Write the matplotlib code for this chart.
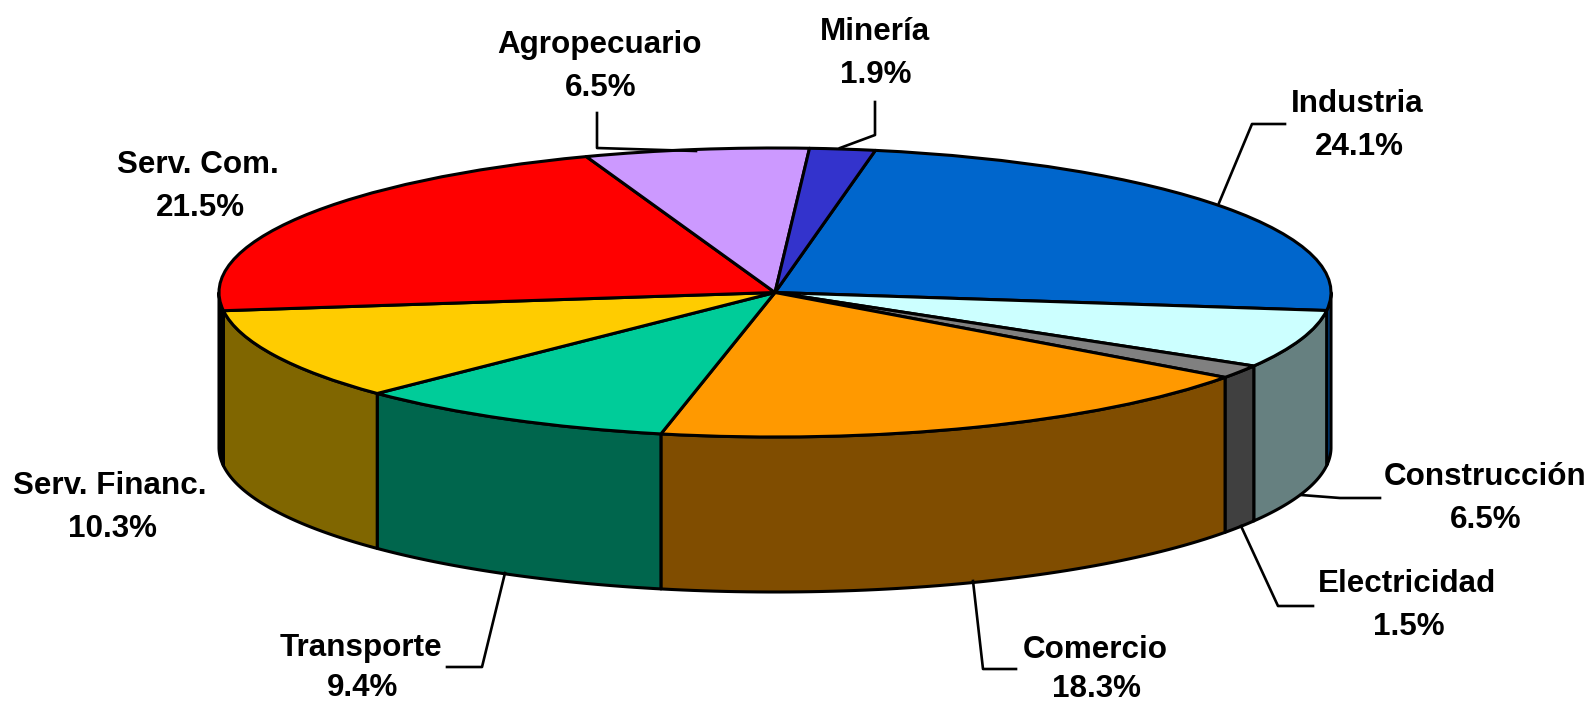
import numpy as np
import matplotlib
matplotlib.use("Agg")
import matplotlib.pyplot as plt

labels = ["Industria", "Construcción", "Electricidad", "Comercio", "Transporte",
          "Serv. Financ.", "Serv. Com.", "Agropecuario", "Minería"]
values = [24.1, 6.5, 1.5, 18.3, 9.4, 10.3, 21.5, 6.5, 1.9]
top_colors = ["#0066CC", "#CCFFFF", "#808080", "#FF9900", "#00CC99",
              "#FFCC00", "#FF0000", "#CC99FF", "#3333CC"]
side_colors = ["#004C99", "#668080", "#404040", "#804D00", "#00664D",
               "#806600", "#000000", "#665080", "#1A1A66"]

W, H = 1593, 704
cx, cy = 775, 292.5   # pie centre, pixels
rx, ry = 556, 144.5   # squashed radii, pixels
depth = 155 / ry
start = 10.4          # degrees clockwise from the top

fig = plt.figure(figsize=(W / 100, H / 100), dpi=100)
ax = fig.add_axes([0, 0, 1, 1])

# side walls, only the front half of the rim shows
edges = start + np.cumsum([0] + values) * 3.6
for i in range(len(values)):
    a = max(edges[i], 90)
    b = min(edges[i + 1], 270)
    if a >= b:
        continue
    t = np.radians(np.linspace(a, b, 60))
    x = np.sin(t)
    y = np.cos(t)
    ax.fill(np.r_[x, x[::-1]], np.r_[y, y[::-1] - depth],
            facecolor=side_colors[i], edgecolor="black", lw=2.2, joinstyle="round")

ax.pie(values, colors=top_colors, startangle=90 - start, counterclock=False,
       wedgeprops=dict(edgecolor="black", lw=2.2, joinstyle="round"))

ax.set_aspect("auto")
ax.set_xlim(-cx / rx, (W - cx) / rx)
ax.set_ylim(-(H - cy) / ry, cy / ry)
ax.axis("off")

# label name / pct centres in pixels
name_pos = [(1357, 104), (1485, 477), (1407, 584), (1095, 650), (361, 648),
            (110, 486), (198, 165), (599, 45), (875, 32)]
pct_pos = [(1359, 147), (1486, 520), (1409, 627), (1097, 689), (363, 688),
           (112, 529), (200, 208), (601, 88), (876, 75)]
for name, v, p, q in zip(labels, values, name_pos, pct_pos):
    fig.text(p[0] / W, 1 - p[1] / H, name, ha="center", va="center",
             family="Liberation Sans", weight="bold", fontsize=22.6)
    fig.text(q[0] / W, 1 - q[1] / H, f"{v}%", ha="center", va="center",
             family="Liberation Sans", weight="bold", fontsize=22.6)

leaders = [
    [(1285, 124), (1252, 124), (1219, 203)],
    [(1301, 495), (1340, 498), (1380, 498)],
    [(1241, 526), (1278, 606), (1313, 606)],
    [(973, 581), (983, 669), (1016, 669)],
    [(505, 573), (482, 667), (447, 667)],
    [(597, 113), (597, 148), (696, 151)],
    [(875, 102), (875, 135), (840, 148)],
]
for pts in leaders:
    fig.add_artist(plt.Line2D([p[0] / W for p in pts], [1 - p[1] / H for p in pts],
                              color="black", lw=1.9))

fig.savefig("out.png", dpi=100)
